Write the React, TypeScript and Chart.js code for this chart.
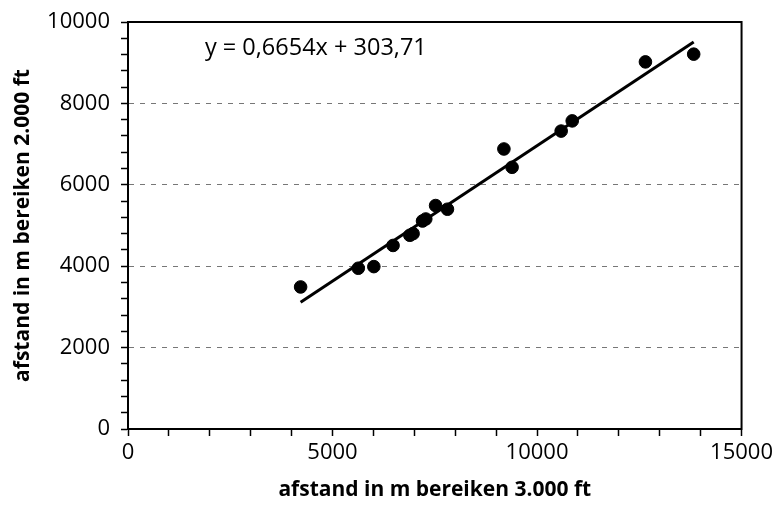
import React, { useEffect, useRef } from "react";
import { Chart, registerables } from "chart.js";

Chart.register(...registerables);

const distance3000ft: number[] = [4220, 5630, 6010, 6480, 6890, 6970, 7200, 7280, 7520, 7810, 9190, 9390, 10590, 10860, 12650, 13830];
const distance2000ft: number[] = [3490, 3950, 3990, 4510, 4760, 4800, 5110, 5160, 5490, 5400, 6880, 6430, 7320, 7570, 9020, 9210];
const trendSlope = 0.6654;
const trendIntercept = 303.71;
const equationLabel = "y = 0,6654x + 303,71";
const xTitle = "afstand in m bereiken 3.000 ft";
const yTitle = "afstand in m bereiken 2.000 ft";

const FONT = "'Open Sans', sans-serif";

export default function App() {
  const ref = useRef<HTMLCanvasElement | null>(null);

  useEffect(() => {
    if (!ref.current) return;
    const points = distance3000ft.map((x, i) => ({ x, y: distance2000ft[i] }));
    const minX = Math.min(...distance3000ft);
    const maxX = Math.max(...distance3000ft);
    const trend = [
      { x: minX, y: trendSlope * minX + trendIntercept },
      { x: maxX, y: trendSlope * maxX + trendIntercept },
    ];

    const framePlugin = {
      id: "frame",
      afterDraw(chart: any) {
        const { ctx, chartArea: a, scales } = chart;
        ctx.save();
        ctx.strokeStyle = "#000";
        ctx.lineWidth = 2;
        ctx.strokeRect(a.left, a.top, a.right - a.left, a.bottom - a.top);
        ctx.fillStyle = "#000";
        ctx.font = `23.5px ${FONT}`;
        ctx.textBaseline = "middle";
        ctx.textAlign = "left";
        ctx.fillText(equationLabel, scales.x.getPixelForValue(1880), scales.y.getPixelForValue(9360));
        ctx.restore();
      },
    };

    const chart = new Chart(ref.current, {
      type: "scatter",
      data: {
        datasets: [
          {
            type: "line",
            data: trend,
            borderColor: "#000",
            borderWidth: 3,
            pointRadius: 0,
            fill: false,
          } as any,
          {
            data: points,
            backgroundColor: "#000",
            borderColor: "#000",
            pointRadius: 6.3,
            pointHoverRadius: 6.3,
          },
        ],
      },
      options: {
        responsive: false,
        animation: false,
        devicePixelRatio: 1,
        layout: { padding: { left: 0, right: 34, top: 21, bottom: 0 } },
        plugins: { legend: { display: false }, tooltip: { enabled: false } },
        scales: {
          x: {
            type: "linear",
            min: 0,
            max: 15000,
            afterFit(scale: any) {
              scale.height = 82;
            },
            ticks: {
              stepSize: 1000,
              autoSkip: false,
              maxRotation: 0,
              padding: 4,
              color: "#000",
              font: { family: FONT, size: 22 },
              callback: (v: any) => (Number(v) % 5000 === 0 ? String(v) : ""),
            },
            grid: {
              drawOnChartArea: false,
              tickLength: 7,
              tickColor: "#000",
              tickWidth: 1.5,
            },
            border: { color: "#000", width: 2 },
            title: {
              display: true,
              text: xTitle,
              color: "#000",
              font: { family: FONT, size: 21, weight: "bold" },
              padding: { top: 0, bottom: 8 },
            },
          },
          y: {
            type: "linear",
            min: 0,
            max: 10000,
            afterFit(scale: any) {
              scale.width = 128;
            },
            ticks: {
              stepSize: 400,
              autoSkip: false,
              padding: 11,
              color: "#000",
              font: { family: FONT, size: 22, lineHeight: 1 },
              callback: (v: any) => (Number(v) % 2000 === 0 ? String(v) : ""),
            },
            grid: {
              color: (ctx: any) => {
                const v = ctx.tick ? ctx.tick.value : 0;
                return v % 2000 === 0 && v > 0 && v < 10000 ? "#777" : "rgba(0,0,0,0)";
              },
              lineWidth: 1,
              tickLength: 7,
              tickColor: "#000",
              tickWidth: 1.5,
            },
            border: { color: "#000", width: 2, dash: [5, 6] },
            title: {
              display: true,
              text: yTitle,
              color: "#000",
              font: { family: FONT, size: 21, weight: "bold" },
              padding: { top: 10, bottom: 0 },
            },
          },
        },
      },
      plugins: [framePlugin],
    });
    return () => chart.destroy();
  }, []);

  return (
    <div style={{ position: "absolute", left: 0, top: 0, width: 777, height: 511, background: "#fff" }}>
      <canvas ref={ref} width={777} height={511} />
    </div>
  );
}
